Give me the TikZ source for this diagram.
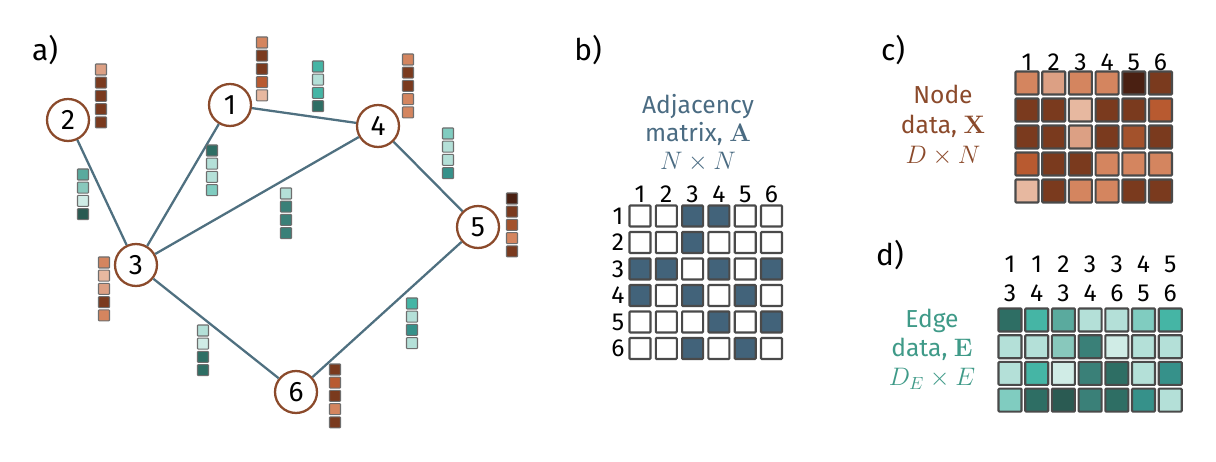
\documentclass[tikz,border=0pt]{standalone}
\usepackage{amsmath,amssymb}
\usepackage[no-math]{fontspec}
\setmainfont{Fira Sans}
\usepackage{tikz}
\usetikzlibrary{positioning,calc}
\usepackage{xcolor}

% graph colours
\definecolor{edgeline}{HTML}{4F7080}
\definecolor{nodering}{HTML}{8B4A2B}
\definecolor{gridline}{HTML}{4A4A4A}
\definecolor{adj}{HTML}{42637A}
\definecolor{adjtext}{HTML}{4A6B82}
\definecolor{edgetext}{HTML}{3F9A88}
% node data (browns)
\definecolor{bK}{HTML}{4A2012}
\definecolor{bD}{HTML}{7A3A1E}
\definecolor{bQ}{HTML}{A3522C}
\definecolor{bR}{HTML}{B85A30}
\definecolor{bS}{HTML}{D4855F}
\definecolor{bL}{HTML}{DCA084}
\definecolor{bP}{HTML}{E7B8A0}
% edge data (teals)
\definecolor{tK}{HTML}{2A5A52}
\definecolor{tD}{HTML}{2E6E64}
\definecolor{tM}{HTML}{3A8078}
\definecolor{tN}{HTML}{36918A}
\definecolor{tB}{HTML}{45B5A5}
\definecolor{tA}{HTML}{5AAA9E}
\definecolor{tC}{HTML}{80CCC0}
\definecolor{tE}{HTML}{88C8BC}
\definecolor{tL}{HTML}{B4E0D8}
\definecolor{tV}{HTML}{D0ECE6}

\begin{document}
\begin{tikzpicture}[x=0.02cm, y=-0.02cm,
    gnode/.style={circle, draw=nodering, line width=1.3pt, fill=white,
        minimum size=0.84cm, inner sep=0pt, font=\fontsize{16}{16}\selectfont},
    link/.style={draw=edgeline, line width=1.3pt},
    cell/.style={draw=gridline!80, line width=0.6pt, rounded corners=0.4pt},
    mcell/.style={draw=gridline, line width=1.2pt, rounded corners=0.5pt},
    lab/.style={font=\fontsize{14}{14}\selectfont},
    panel/.style={font=\fontsize{17}{17}\selectfont}]
    \useasboundingbox (0,0) rectangle (1216,462);

    % Panel labels
    \node[panel] (pa) at (45,50) {a)};
    \node[panel] (pb) at (588,50) {b)};
    \node[panel] (pc) at (893,50) {c)};
    \node[panel] (pd) at (890,255) {d)};

    % Graph nodes
    \node[gnode] (n1) at (230,105) {1};
    \node[gnode] (n2) at (68,120) {2};
    \node[gnode] (n3) at (136,265) {3};
    \node[gnode] (n4) at (378,126) {4};
    \node[gnode] (n5) at (478,227) {5};
    \node[gnode] (n6) at (296,392) {6};

    % Graph edges
    \draw[link] (n2) -- (n3);
    \draw[link] (n1) -- (n3);
    \draw[link] (n1) -- (n4);
    \draw[link] (n3) -- (n4);
    \draw[link] (n4) -- (n5);
    \draw[link] (n3) -- (n6);
    \draw[link] (n5) -- (n6);

    % Node feature vectors
    \foreach \vx/\vy/\vc in {262/37/{bS,bD,bD,bR,bP}, 101/64/{bL,bD,bD,bD,bD},
        104/257/{bS,bP,bL,bD,bS}, 408/54/{bS,bD,bD,bS,bS},
        512/193/{bK,bD,bQ,bS,bD}, 335/364/{bD,bR,bD,bS,bD}}
        \foreach \c [count=\k] in \vc
            \draw[cell, fill=\c] (\vx-5.5, \vy+13.2*\k-13.2) rectangle ++(11,11);

    % Edge feature vectors
    \foreach \vx/\vy/\vc in {83/169/{tA,tE,tV,tK}, 212/145/{tD,tL,tL,tC},
        318/61/{tB,tL,tB,tD}, 286/188/{tL,tM,tM,tM}, 448/128/{tC,tL,tL,tN},
        203/325/{tL,tV,tD,tD}, 412/298/{tB,tL,tN,tL}}
        \foreach \c [count=\k] in \vc
            \draw[cell, fill=\c] (\vx-5.5, \vy+13.2*\k-13.2) rectangle ++(11,11);

    % Adjacency matrix
    \node[lab, text=adjtext, align=center, font=\fontsize{14}{16}\selectfont]
        (atitle) at (698,133) {Adjacency\\matrix, $\mathbf{A}$\\$N\times N$};
    \foreach \j in {1,...,6} {
        \node[lab] (ah\j) at (640+26.3*\j-26.3, 194) {\j};
        \node[lab] (ar\j) at (618, 216+26.5*\j-26.5) {\j};
    }
    \foreach \row [count=\i] in {{0,0,1,1,0,0},{0,0,1,0,0,0},{1,1,0,1,0,1},
        {1,0,1,0,1,0},{0,0,0,1,0,1},{0,0,1,0,1,0}}
        \foreach \a [count=\j] in \row {
            \ifnum\a=1 \def\fc{adj}\else\def\fc{white}\fi
            \draw[mcell, fill=\fc] (640+26.3*\j-26.3-10.5, 216+26.5*\i-26.5-10.5)
                rectangle ++(21,21);
        }

    % Node data matrix
    \node[lab, text=nodering, align=center, font=\fontsize{14}{17}\selectfont]
        (xtitle) at (943,125) {Node\\data, $\mathbf{X}$\\$D\times N$};
    \foreach \j in {1,...,6}
        \node[lab] (xh\j) at (1027+26.7*\j-26.7, 62) {\j};
    \foreach \row [count=\i] in {{bS,bL,bS,bS,bK,bD},{bD,bD,bP,bD,bD,bR},
        {bD,bD,bL,bD,bQ,bD},{bR,bD,bD,bS,bS,bS},{bP,bD,bS,bS,bD,bD}}
        \foreach \c [count=\j] in \row
            \draw[mcell, fill=\c] (1027+26.7*\j-26.7-11.5, 83+27*\i-27-11.5)
                rectangle ++(23,23);

    % Edge data matrix
    \node[lab, text=edgetext, align=center, font=\fontsize{14}{16.5}\selectfont]
        (etitle) at (932,349) {Edge\\data, $\mathbf{E}$\\$D_E\times E$};
    \foreach \a/\b [count=\j] in {1/3,1/4,2/3,3/4,3/6,4/5,5/6} {
        \node[lab] (eh\j) at (1010+26.7*\j-26.7, 264) {\a};
        \node[lab] (el\j) at (1010+26.7*\j-26.7, 293) {\b};
    }
    \foreach \row [count=\i] in {{tD,tB,tA,tL,tL,tC,tB},{tL,tL,tE,tM,tV,tL,tL},
        {tL,tB,tV,tM,tD,tL,tN},{tC,tD,tK,tM,tD,tN,tL}}
        \foreach \c [count=\j] in \row
            \draw[mcell, fill=\c] (1010+26.7*\j-26.7-11.5, 320+26.7*\i-26.7-11.5)
                rectangle ++(23,23);
\end{tikzpicture}
\end{document}
